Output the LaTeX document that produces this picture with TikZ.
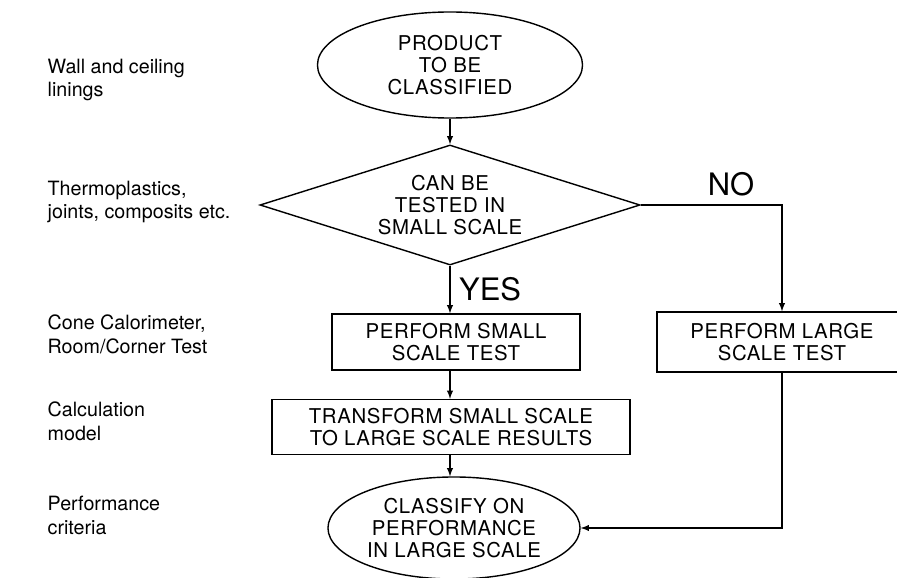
\documentclass[tikz,border=0pt]{standalone}
\usepackage{fontspec}
\setmainfont{TeX Gyre Heros}
\newfontfamily\chartfont{TeX Gyre Heros}[LetterSpace=3]
\usepackage{tikz}
\usetikzlibrary{arrows,shapes.geometric}

\begin{document}
\begin{tikzpicture}[x=0.025cm, y=-0.025cm, >=latex, line width=1pt,
  every node/.style={font=\chartfont\fontsize{14.5}{15.8}\selectfont, align=center, inner sep=0pt},
  terminal/.style={draw, ellipse},
  decision/.style={draw, diamond, aspect=3.2, minimum width=9.5cm, minimum height=3cm},
  process/.style={draw, rectangle},
  note/.style={anchor=west, align=left, font=\fontsize{14}{17}\selectfont},
  answer/.style={font=\fontsize{22}{24}\selectfont}]
  \useasboundingbox (0,0) rectangle (897,578);
  \clip (0,0) rectangle (897,578);

  % flow chart
  \node[terminal, minimum width=6.625cm, minimum height=2.65cm] (prod) at (450,65)  {PRODUCT\\TO BE\\CLASSIFIED};
  \node[decision]                                              (test) at (450,205) {CAN BE\\TESTED IN\\SMALL SCALE};
  \node[process, minimum width=6.2cm, minimum height=1.4cm]   (small) at (456,342) {PERFORM SMALL\\SCALE TEST};
  \node[process, minimum width=6.25cm, minimum height=1.5cm]  (large) at (782,342) {PERFORM LARGE\\SCALE TEST};
  \node[process, minimum width=8.95cm, minimum height=1.375cm] (trans) at (451,427) {TRANSFORM SMALL SCALE\\TO LARGE SCALE RESULTS};
  \node[terminal, minimum width=6.3cm, minimum height=2.55cm] (class) at (454,528) {CLASSIFY ON\\PERFORMANCE\\IN LARGE SCALE};

  % notes on the left
  \node[note] (wall)  at (47,80)  {Wall and ceiling\\linings};
  \node[note] (thermo) at (47,202) {Thermoplastics,\\joints, composits etc.};
  \node[note] (cone)  at (47,334) {Cone Calorimeter,\\Room/Corner Test};
  \node[note] (calc)  at (47,421) {Calculation\\model};
  \node[note] (perf)  at (47,515) {Performance\\criteria};

  \draw[->] (prod.south) -- (test.north);
  \draw[->] (test.south) -- node[answer, anchor=west, xshift=6pt] {YES} (test.south |- small.north);
  \draw[->] (small.south -| test.south) -- (test.south |- trans.north);
  \draw[->] (trans.south -| test.south) -- (class.north -| test.south);
  \draw[->] (test.east) -- node[answer, above=6pt, xshift=14pt] {NO} (test.east -| large.north) -- (large.north);
  \draw[->] (large.south) |- (class.east);
\end{tikzpicture}
\end{document}
